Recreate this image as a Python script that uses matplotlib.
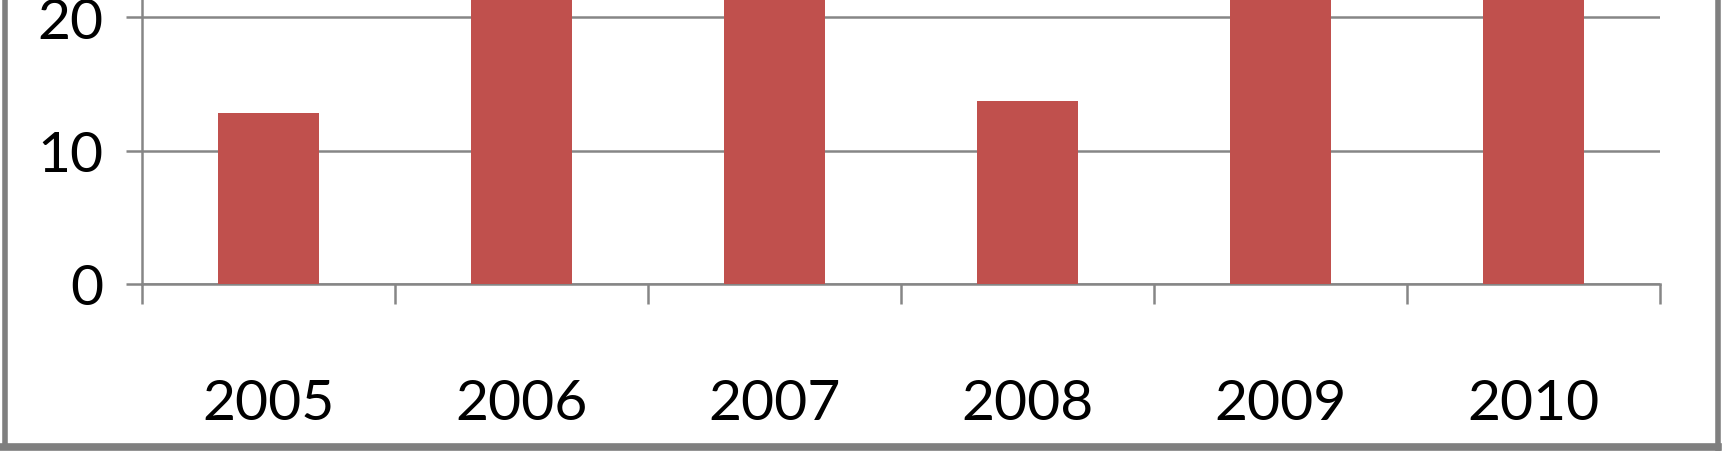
import matplotlib
matplotlib.use("Agg")
import matplotlib.pyplot as plt
from matplotlib.lines import Line2D

# ── Data ──────────────────────────────────────────────────────────────
years = ["2005", "2006", "2007", "2008", "2009", "2010"]
values = [12.8, 24, 24, 13.7, 24, 24]   # tall bars run past the cropped top
y_ticks = [0, 10, 20]

W, H = 1722, 452
DPI = 100
BAR = "#C0504D"
GRID = "#868686"
FRAME = "#7F7F7F"

plt.rcParams["font.family"] = ["Lato", "DejaVu Sans"]

fig = plt.figure(figsize=(W / DPI, H / DPI), dpi=DPI)
fig.patch.set_facecolor("white")

# plot area in pixel terms: x 142..1660, y 0..285 from top
ax = fig.add_axes([142 / W, (H - 285) / H, (1660 - 142) / W, 285 / H])

x = list(range(len(years)))
ax.bar(x, values, width=0.4, color=BAR, zorder=3)

ax.set_xlim(-0.5, len(years) - 0.5)
ax.set_ylim(0, 21.35)

ax.set_yticks(y_ticks)
ax.set_yticklabels([str(v) for v in y_ticks])
ax.set_xticks(x)
ax.set_xticklabels(years)
ax.set_xticks([i - 0.5 for i in range(len(years) + 1)], minor=True)

for s in ("top", "right"):
    ax.spines[s].set_visible(False)
for s in ("left", "bottom"):
    ax.spines[s].set_color(GRID)
    ax.spines[s].set_linewidth(1.8)

ax.grid(axis="y", color=GRID, lw=1.8, zorder=0)
ax.tick_params(axis="x", which="major", length=0, pad=68, labelsize=41)
ax.tick_params(axis="x", which="minor", length=14.4, width=1.8, color=GRID, direction="out")
ax.tick_params(axis="y", length=11.5, width=1.8, color=GRID, pad=16, labelsize=41)

# outer chart frame (left, bottom, right)
def px_line(x0, y0, x1, y1, lw):
    fig.add_artist(Line2D([x0 / W, x1 / W], [1 - y0 / H, 1 - y1 / H],
                          transform=fig.transFigure, color=FRAME, lw=lw))

px_line(4.5, 0, 4.5, 448, 4.0)
px_line(0, 448, 1718, 448, 5.5)
px_line(1718, 0, 1718, 452, 4.0)

fig.savefig("out.png", dpi=DPI, facecolor="white")
